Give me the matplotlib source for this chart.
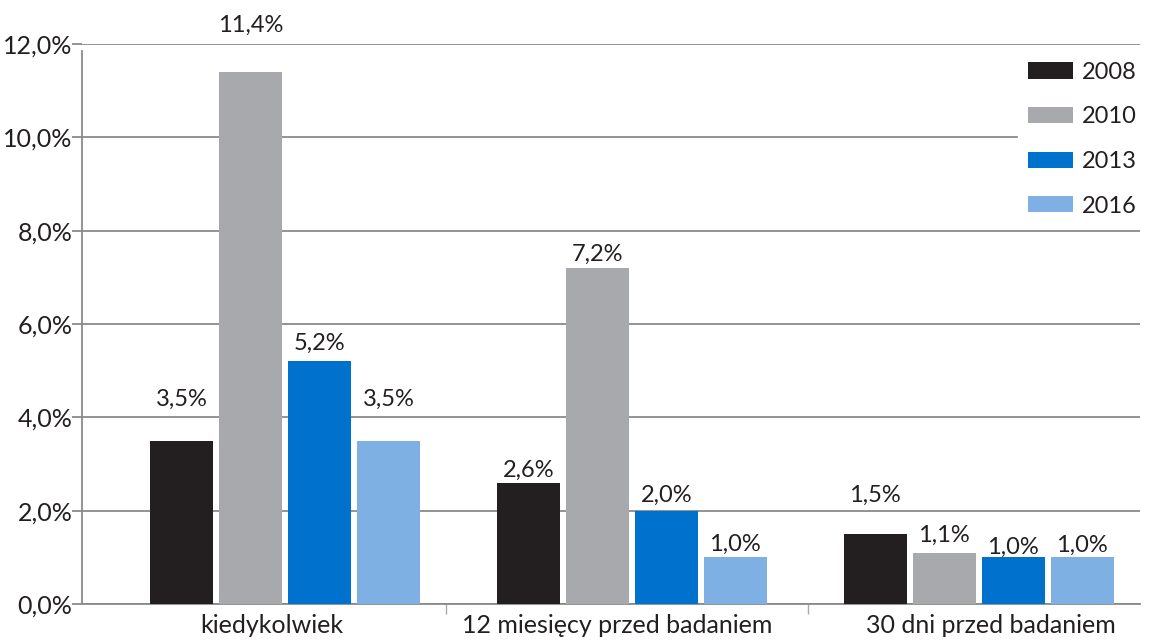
import matplotlib
matplotlib.use("Agg")
import matplotlib.pyplot as plt
import matplotlib.transforms as mtransforms
import numpy as np
from matplotlib.ticker import FuncFormatter

plt.rcParams['font.family'] = ['Lato', 'DejaVu Sans']

categories = ["kiedykolwiek", "12 miesięcy przed badaniem", "30 dni przed badaniem"]
years = ["2008", "2010", "2013", "2016"]
v2008 = [3.5, 2.6, 1.5]
v2010 = [11.4, 7.2, 1.1]
v2013 = [5.2, 2.0, 1.0]
v2016 = [3.5, 1.0, 1.0]
y_ticks = [0, 2, 4, 6, 8, 10, 12]

series = [v2008, v2010, v2013, v2016]
colors = ["#231f20", "#a7a9ac", "#0072ce", "#7fb0e3"]
# gap (pixels) between each bar top and the baseline of its value label
label_gap = [[35, 6, 32], [40, 7, 11], [11, 9, 4], [35, 7, 6]]
# horizontal nudge (pixels) of the category labels
cat_shift = [-13, -15, 12]

fig = plt.figure(figsize=(11.5, 6.41), dpi=100)
ax = fig.add_axes([0.0713, 0.0577, 0.9197, 0.8737])

x = np.arange(len(categories))
step = 0.199
width = 0.182
for i, (vals, col, yr) in enumerate(zip(series, colors, years)):
    pos = x + (i - 1.5) * step
    bars = ax.bar(pos, vals, width=width, color=col, label=yr, zorder=3)
    for j, (b, v) in enumerate(zip(bars, vals)):
        ax.annotate(f"{v:.1f}%".replace(".", ","),
                    (b.get_x() + b.get_width() / 2, v),
                    xytext=(0, label_gap[i][j]), textcoords="offset pixels",
                    ha="center", va="baseline", fontsize=17, color="#231f20")

ax.set_ylim(0, 12)
ax.set_xlim(-0.585, 2.464)
ax.set_yticks(y_ticks)
ax.yaxis.set_major_formatter(FuncFormatter(lambda v, p: f"{v:.1f}%".replace(".", ",")))
ax.grid(axis="y", color="#8a8a8a", linewidth=1.3, zorder=0)
ax.tick_params(axis="y", length=7, width=1.3, color="#8a8a8a", pad=0,
               labelsize=18, labelcolor="#231f20")

ax.set_xticks(x)
ax.set_xticklabels(categories)
ax.tick_params(axis="x", which="major", length=0, pad=7, labelsize=18,
               labelcolor="#231f20")
ax.set_xticks([0.464, 1.507], minor=True)
ax.tick_params(axis="x", which="minor", length=7, width=1, color="#aaaaaa")
for lbl, dx in zip(ax.get_xticklabels(), cat_shift):
    lbl.set_transform(lbl.get_transform() +
                      mtransforms.ScaledTranslation(dx / 100, 0, fig.dpi_scale_trans))

for s in ["top", "right"]:
    ax.spines[s].set_visible(False)
ax.spines["left"].set_color("#8a8a8a")
ax.spines["left"].set_linewidth(1.3)
ax.spines["left"].set_bounds(0, 11.85)
ax.spines["bottom"].set_color("#8a8a8a")
ax.spines["bottom"].set_linewidth(1.3)

leg = ax.legend(loc="upper right", bbox_to_anchor=(1.0066, 0.985), frameon=True,
                fontsize=17, handlelength=1.9, handleheight=0.68,
                labelspacing=1.0, handletextpad=0.4, borderpad=0.4,
                borderaxespad=0.0)
leg.get_frame().set_facecolor("white")
leg.get_frame().set_edgecolor("white")
leg.get_frame().set_alpha(1)
leg.get_frame().set_boxstyle("square", pad=0)
for t in leg.get_texts():
    t.set_color("#231f20")
leg.set_zorder(5)

fig.savefig("out.png", dpi=100)
